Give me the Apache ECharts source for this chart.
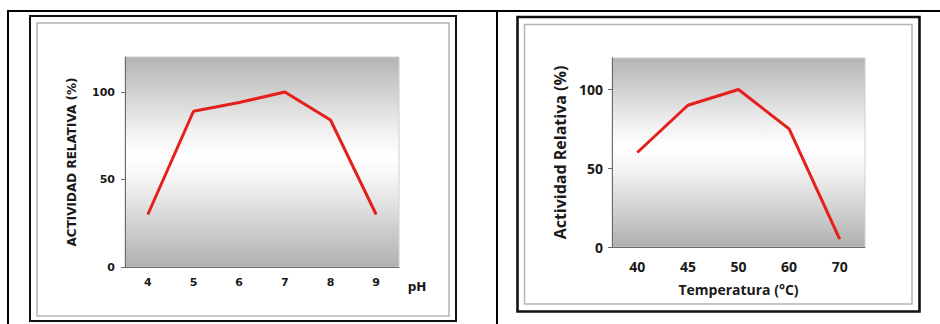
<!DOCTYPE html>
<html>
<head>
<meta charset="utf-8">
<style>
  html, body { margin: 0; padding: 0; background: #ffffff; }
  #chart { width: 940px; height: 324px; }
</style>
<script src="https://cdn.jsdelivr.net/npm/echarts@6/dist/echarts.min.js"></script>
</head>
<body>
<div id="chart"></div>
<script>
// Activity vs pH
const phValues = ['4', '5', '6', '7', '8', '9'];
const phActivity = [30, 89, 94, 100, 84, 30];

// Activity vs temperature
const tempValues = ['40', '45', '50', '60', '70'];
const tempActivity = [60, 90, 100, 75, 5];

// Shared y-axis ticks
const activityTicks = [0, 50, 100];

const chart = echarts.init(document.getElementById('chart'), null, { renderer: 'svg' });

const plotFill = {
  type: 'linear', x: 0, y: 0, x2: 0, y2: 1,
  colorStops: [
    { offset: 0, color: '#b4b4b4' },
    { offset: 0.36, color: '#f2f2f2' },
    { offset: 0.48, color: '#ffffff' },
    { offset: 0.6, color: '#f2f2f2' },
    { offset: 1, color: '#b0b0b0' }
  ]
};

const leftFont = 'DejaVu Sans';
const rightFont = 'Open Sans';
const axisGrey = '#6a6a6a';
const red = '#e5201c';
const ink = '#1a1a1a';

const leftGrid = { left: 125, top: 57, width: 274, height: 210 };
const rightGrid = { left: 612, top: 58, width: 253, height: 189 };

function yAxisFor(gridIndex, font, size, name, nameSize, nameGap, margin) {
  return {
    type: 'value', gridIndex, min: 0, max: 120, interval: 50,
    name, nameLocation: 'middle', nameGap,
    nameTextStyle: { fontFamily: font, fontWeight: 'bold', fontSize: nameSize, color: ink },
    axisLine: { show: true, lineStyle: { color: axisGrey, width: 1 } },
    axisTick: { show: true, length: 4, customValues: activityTicks, lineStyle: { color: axisGrey } },
    axisLabel: { customValues: activityTicks, margin, fontFamily: font, fontWeight: 'bold', fontSize: size, color: ink },
    splitLine: { show: false }
  };
}

chart.setOption({
  animation: false,
  backgroundColor: '#ffffff',
  grid: [
    Object.assign({ show: true, backgroundColor: plotFill, borderColor: '#cfcfcf', borderWidth: 1 }, leftGrid),
    Object.assign({ show: true, backgroundColor: plotFill, borderColor: '#cfcfcf', borderWidth: 1 }, rightGrid)
  ],
  xAxis: [
    {
      type: 'category', gridIndex: 0, data: phValues, boundaryGap: true,
      axisLine: { lineStyle: { color: axisGrey, width: 1 } },
      axisTick: { length: 4, interval: 0, lineStyle: { color: axisGrey } },
      axisLabel: { margin: 10, fontFamily: leftFont, fontWeight: 'bold', fontSize: 11, color: ink },
      splitLine: { show: false }
    },
    {
      type: 'category', gridIndex: 1, data: tempValues, boundaryGap: true,
      name: 'Temperatura (°C)', nameLocation: 'middle', nameGap: 35,
      nameTextStyle: { fontFamily: rightFont, fontWeight: 'bold', fontSize: 14, color: ink },
      axisLine: { lineStyle: { color: axisGrey, width: 1 } },
      axisTick: { length: 4, interval: 0, lineStyle: { color: axisGrey } },
      axisLabel: { margin: 12, fontFamily: rightFont, fontWeight: 'bold', fontSize: 14, color: ink },
      splitLine: { show: false }
    }
  ],
  yAxis: [
    yAxisFor(0, leftFont, 11, 'ACTIVIDAD RELATIVA (%)', 12, 47, 10),
    yAxisFor(1, rightFont, 14, 'Actividad Relativa (%)', 16, 44, 9)
  ],
  series: [
    {
      type: 'line', xAxisIndex: 0, yAxisIndex: 0, data: phActivity,
      symbol: 'none', lineStyle: { color: red, width: 3 }
    },
    {
      type: 'line', xAxisIndex: 1, yAxisIndex: 1, data: tempActivity,
      symbol: 'none', lineStyle: { color: red, width: 3 }
    }
  ],
  graphic: [
    // table rules
    { type: 'line', shape: { x1: 7, y1: 11, x2: 940, y2: 11 }, style: { stroke: '#000', lineWidth: 2 } },
    { type: 'line', shape: { x1: 8, y1: 10, x2: 8, y2: 324 }, style: { stroke: '#000', lineWidth: 2 } },
    { type: 'line', shape: { x1: 497, y1: 10, x2: 497, y2: 324 }, style: { stroke: '#000', lineWidth: 2 } },
    // left chart frame
    { type: 'rect', z: -1, shape: { x: 30, y: 16, width: 426, height: 305 }, style: { fill: '#ffffff', stroke: '#111', lineWidth: 2 } },
    { type: 'rect', z: -1, shape: { x: 37, y: 23, width: 412, height: 293 }, style: { fill: 'none', stroke: '#b4b4b4', lineWidth: 1.5 } },
    // right chart frame
    { type: 'rect', z: -1, shape: { x: 517.5, y: 17, width: 402, height: 294.5 }, style: { fill: '#ffffff', stroke: '#111', lineWidth: 2.6 } },
    { type: 'rect', z: -1, shape: { x: 524.5, y: 24.5, width: 387.5, height: 279.5 }, style: { fill: 'none', stroke: '#b4b4b4', lineWidth: 1.5 } },
    // pH axis title, beside and below the end of the x axis
    {
      type: 'text', x: leftGrid.left + leftGrid.width + 18, y: leftGrid.top + leftGrid.height + 20,
      style: { text: 'pH', fill: ink, font: 'bold 12px "DejaVu Sans"', textAlign: 'center', textVerticalAlign: 'middle' }
    }
  ]
});
</script>
</body>
</html>
